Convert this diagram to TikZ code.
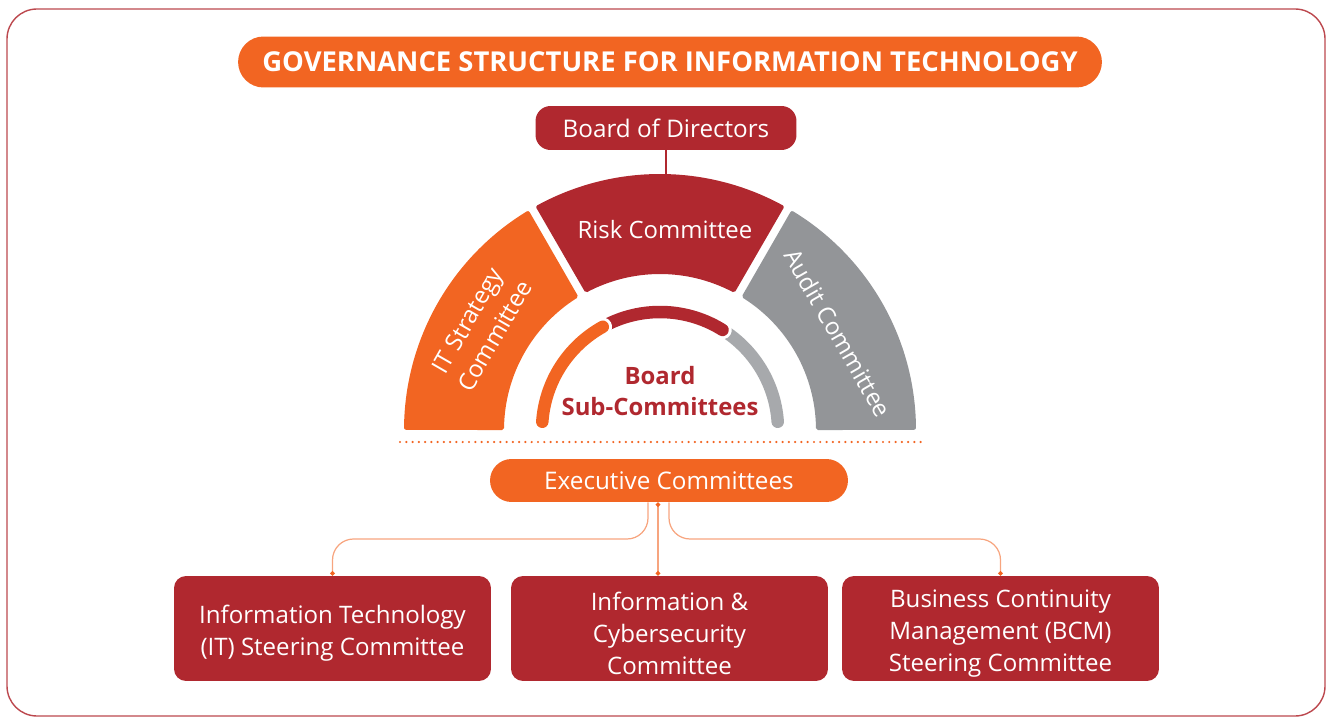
\documentclass[tikz,border=0pt]{standalone}
\usepackage{fontspec}
\setmainfont{Open Sans}
\usetikzlibrary{arrows.meta}

\definecolor{govorange}{HTML}{F26522}
\definecolor{govred}{HTML}{B0282F}
\definecolor{govgray}{HTML}{939598}
\definecolor{ringgray}{HTML}{A7A9AC}
\definecolor{linkorange}{HTML}{F7A57F}

\newcommand{\govtitlefont}{\fontsize{15.6}{17}\bfseries\selectfont}
\newcommand{\govnodefont}{\fontsize{13.8}{15}\selectfont}
\newcommand{\govboxfont}{\fontsize{13.7}{18.1}\selectfont}
\newcommand{\govsegfont}{\fontsize{13.6}{18}\selectfont}
\newcommand{\govsubfont}{\fontsize{13.6}{18}\bfseries\selectfont}
% pushes the box text a little down
\newcommand{\govtop}{\rule{0pt}{16pt}}

\begin{document}
\begin{tikzpicture}[x=0.02cm, y=-0.02cm,
  pill/.style={fill=#1, text=white, align=center, inner sep=0pt},
  box/.style={fill=govred, text=white, align=center, inner sep=0pt,
    rounded corners=0.24cm, minimum width=6.34cm, minimum height=2.1cm,
    font=\govboxfont},
  link/.style={linkorange, line width=0.7pt, rounded corners=0.42cm},
  sector/.style={fill=#1, draw=#1, line width=0.08cm, line join=round},
  ring/.style={draw=#1, line width=0.25cm, line cap=round},
  casing/.style={draw=white, line width=0.37cm, line cap=round},
  seg/.style={text=white, align=center, font=\govsegfont, inner sep=0pt}]

\useasboundingbox (0,0) rectangle (1327,719);

% FRAME
\draw[govred!85, line width=0.8pt, rounded corners=0.6cm] (7,9) rectangle (1325,716);

% TITLE
\node[pill=govorange, rounded corners=0.51cm, minimum width=17.28cm,
  minimum height=1.02cm, font=\govtitlefont] (title) at (670,62)
  {GOVERNANCE STRUCTURE FOR INFORMATION TECHNOLOGY};

% BOARD
\node[pill=govred, rounded corners=0.3cm, minimum width=5.22cm,
  minimum height=0.88cm, font=\govnodefont] (board) at (666,128)
  {Board of Directors};

% HALF RING OF COMMITTEES
\begin{scope}[shift={(660,430)}, y=0.02cm]
  % outer sectors
  \path[sector=govorange] (179.5:254) arc[start angle=179.5, end angle=121.35, radius=254]
    -- (122.2:158) arc[start angle=122.2, end angle=179.3, radius=158] -- cycle;
  \path[sector=govred] (118.65:254) arc[start angle=118.65, end angle=61.35, radius=254]
    -- (62.2:158) arc[start angle=62.2, end angle=117.8, radius=158] -- cycle;
  \path[sector=govgray] (58.65:254) arc[start angle=58.65, end angle=0.5, radius=254]
    -- (0.7:158) arc[start angle=0.7, end angle=57.8, radius=158] -- cycle;
  \coordinate (risk top) at (90:256);
  % inner ring
  \draw[ring=ringgray] (4:118) arc[start angle=4, end angle=62, radius=118];
  \draw[casing] (58:118) arc[start angle=58, end angle=116, radius=118];
  \draw[ring=govred] (58:118) arc[start angle=58, end angle=116, radius=118];
  \draw[casing] (119:118) arc[start angle=119, end angle=176, radius=118];
  \draw[ring=govorange] (119:118) arc[start angle=119, end angle=176, radius=118];
\end{scope}

\draw[govred, line width=1.2pt] (board.south) -- (board.south |- risk top);

% LABELS
\node[seg, rotate=60] (itsc) at (481,328) {IT Strategy\\Committee};
\node[seg] (risk) at (665,230) {Risk Committee};
\node[seg, rotate=-60] (audit) at (838,333) {Audit Committee};
\node[text=govred, align=center, font=\govsubfont] (subcom) at (660,391)
  {Board\\Sub-Committees};

% separator
\draw[govorange, line width=1.4pt, line cap=round, dash pattern=on 0pt off 3.57pt]
  (400,442) -- (922,442);

% EXECUTIVE
\node[pill=govorange, rounded corners=0.43cm, minimum width=7.16cm,
  minimum height=0.86cm, font=\govnodefont] (exec) at (669,480.5)
  {Executive Committees};

\node[box] (itsteer) at (332.5,628.5) {\govtop Information Technology\\(IT) Steering Committee};
\node[box] (cyber) at (669.5,628.5) {\govtop Information \&\\Cybersecurity\\Committee};
\node[box] (bcm) at (1000.5,628.5) {\govtop Business Continuity\\Management (BCM)\\Steering Committee};

% CONNECTORS
\coordinate (bus) at (0,539);
\coordinate (exec left) at ([xshift=-0.42cm]exec.south);
\coordinate (exec mid) at ([xshift=-0.22cm]exec.south);
\draw[link, -{Circle[length=2.6pt,color=govorange]}] (exec left) -- (exec left |- bus)
  -- (itsteer.north |- bus) -- (itsteer.north);
\draw[link, {Circle[length=2.6pt,color=govorange]}-{Circle[length=2.6pt,color=govorange]}]
  (exec mid) -- (exec mid |- cyber.north);
\draw[link, -{Circle[length=2.6pt,color=govorange]}] (exec.south) -- (exec.south |- bus)
  -- (bcm.north |- bus) -- (bcm.north);

\end{tikzpicture}
\end{document}
